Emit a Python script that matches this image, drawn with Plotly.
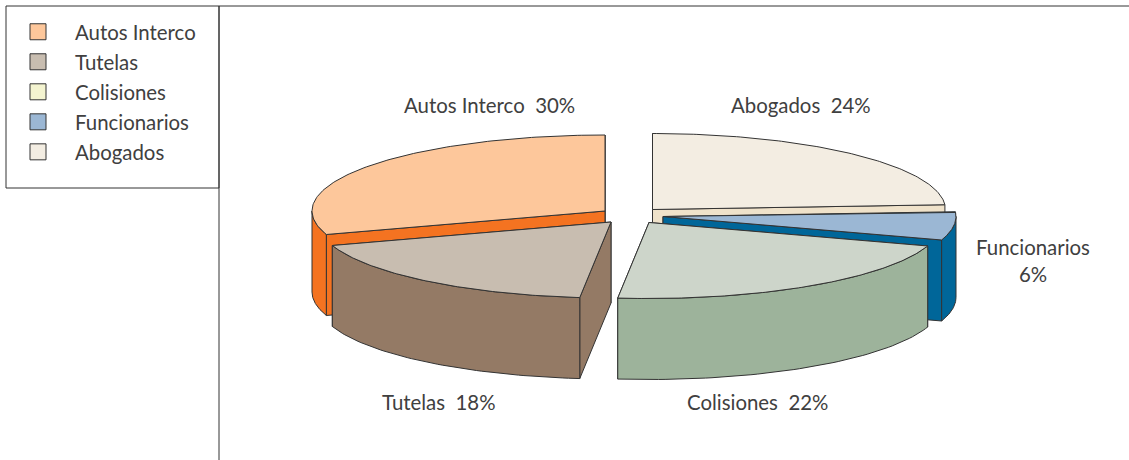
import numpy as np
import plotly.graph_objects as go

# order of the legend
legend_names = ["Autos Interco", "Tutelas", "Colisiones", "Funcionarios", "Abogados"]
legend_colors = ["#fdc79b", "#c8bdb0", "#f4f4d0", "#9bb7d4", "#f3ede2"]

# slices clockwise from 12 o'clock
names = ["Abogados", "Funcionarios", "Colisiones", "Tutelas", "Autos Interco"]
values = [24, 6, 21.7, 18.3, 30]

top_colors = ["#f3ede2", "#9bb7d4", "#cdd5ca", "#c8bdb0", "#fdc79b"]
side_colors = ["#efe2ca", "#006699", "#9db39b", "#947a65", "#f47321"]

# exploded position of each slice, pixels
apex_x = [652.5, 663, 649, 611, 605]
apex_y = [209.5, 216.5, 222.5, 222, 211]
label_x = [801, 1033, 757, 439, 489]
label_y = [105, 260, 402, 402, 105]

RX = 293
RY = 76
DEPTH = 81
LINE = "#333333"
TEXT = "#404040"
FONT = "Lato"

fig = go.Figure()


def edge(cx, cy, angles):
    t = np.radians(angles)
    return cx + RX * np.sin(t), cy - RY * np.cos(t)


def add_poly(x, y, color, name):
    fig.add_trace(go.Scatter(
        x=list(x) + [x[0]], y=list(y) + [y[0]],
        mode="lines", fill="toself", fillcolor=color,
        line=dict(color=LINE, width=1),
        name=name, hoverinfo="name", showlegend=False,
    ))


def add_slice(i, start, end):
    cx, cy = apex_x[i], apex_y[i]
    name = names[i]
    # the two cut walls, the one facing away first
    walls = sorted([(start, start - 90), (end, end + 90)],
                   key=lambda w: -np.cos(np.radians(w[1])))
    for ang, _ in walls:
        ex, ey = edge(cx, cy, np.array([ang]))
        add_poly([cx, ex[0], ex[0], cx], [cy, ey[0], ey[0] + DEPTH, cy + DEPTH],
                 side_colors[i], name)
    # outer rim, only the part facing the viewer
    lo, hi = max(start, 90), min(end, 270)
    if hi > lo:
        ex, ey = edge(cx, cy, np.linspace(lo, hi, 60))
        add_poly(np.concatenate([ex, ex[::-1]]),
                 np.concatenate([ey, ey[::-1] + DEPTH]),
                 side_colors[i], name)
    # top face
    ex, ey = edge(cx, cy, np.linspace(start, end, 120))
    add_poly(np.concatenate([[cx], ex]), np.concatenate([[cy], ey]),
             top_colors[i], name)


bounds = np.cumsum([0] + values) / sum(values) * 360
for i in [0, 4, 1, 2, 3]:
    add_slice(i, bounds[i], bounds[i + 1])

# legend entries
for name, color in zip(legend_names, legend_colors):
    fig.add_trace(go.Scatter(
        x=[None], y=[None], mode="markers", name=name, legendgroup=name,
        marker=dict(symbol="square", size=19, color=color, line=dict(color=LINE, width=1)),
    ))

for i, name in enumerate(names):
    pct = f"{round(values[i])}%"
    sep = "<br>" if name == "Funcionarios" else "  "
    fig.add_annotation(x=label_x[i], y=label_y[i], text=f"{name}{sep}{pct}",
                       showarrow=False, xanchor="center", yanchor="middle")

fig.update_layout(
    width=1129,
    height=460,
    margin=dict(l=0, r=0, t=0, b=0),
    paper_bgcolor="white",
    plot_bgcolor="white",
    font=dict(family=FONT, size=20.4, color=TEXT),
    xaxis=dict(range=[0, 1129], visible=False, fixedrange=True),
    yaxis=dict(range=[460, 0], visible=False, fixedrange=True),
    legend=dict(
        x=1 / 1129, y=1 - 12 / 460, xanchor="left", yanchor="top",
        bgcolor="rgba(0,0,0,0)", borderwidth=0,
        itemwidth=64, tracegroupgap=0.5, itemclick=False, itemdoubleclick=False,
    ),
    shapes=[
        dict(type="rect", xref="x", yref="y", x0=6, x1=219, y0=6, y1=188,
             line=dict(color=LINE, width=1)),
        dict(type="line", xref="x", yref="y", x0=219, x1=1129, y0=6, y1=6,
             line=dict(color=LINE, width=1)),
        dict(type="line", xref="x", yref="y", x0=219, x1=219, y0=6, y1=460,
             line=dict(color=LINE, width=1)),
    ],
)

# the page's default body margin would shift everything by 8px
fig.write_html("out.html", config={"displayModeBar": False},
               post_script="document.body.style.margin='0';")
